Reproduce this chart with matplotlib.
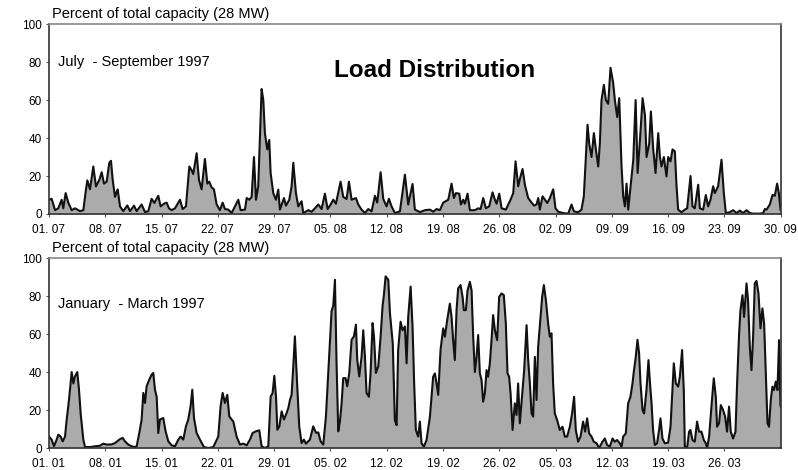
import numpy as np
import matplotlib
matplotlib.use("Agg")
import matplotlib.pyplot as plt

plt.rcParams['font.family'] = ['Liberation Sans', 'DejaVu Sans']

# July - September 1997: day offset from 01.07, percent of capacity
jul_day = [0.0, 0.33, 0.75, 1.16, 1.57, 1.78, 2.07, 2.40, 2.82, 3.23, 3.85, 4.27, 4.60, 4.77,
           5.10, 5.51, 5.84, 6.26, 6.55, 6.84, 7.17, 7.50, 7.71, 7.92, 8.21, 8.54, 8.83, 9.24,
           9.74, 10.07, 10.57, 10.90, 11.52, 11.94, 12.35, 12.76, 13.10, 13.59, 13.88, 14.30,
           14.63, 14.92, 15.25, 15.67, 16.29, 16.62, 17.03, 17.45, 17.74, 17.94, 18.36, 18.65,
           18.98, 19.39, 19.69, 19.93, 20.22, 20.51, 20.85, 21.26, 21.59, 21.88, 22.30, 22.71,
           23.13, 23.54, 23.83, 24.37, 24.58, 24.91, 25.20, 25.49, 25.74, 26.02, 26.44, 26.65,
           26.85, 27.14, 27.39, 27.56, 27.89, 28.22, 28.51, 28.72, 29.22, 29.47, 29.88, 30.17,
           30.38, 30.71, 31.00, 31.41, 31.62, 32.24, 32.66, 33.07, 33.49, 33.90, 34.31, 34.65,
           34.94, 35.35, 35.68, 36.26, 36.59, 37.01, 37.30, 37.63, 38.17, 38.46, 38.87, 39.29,
           39.70, 40.12, 40.53, 40.82, 41.24, 41.57, 41.98, 42.27, 42.60, 43.02, 43.64, 44.26,
           44.67, 45.21, 45.50, 46.13, 46.75, 47.37, 47.78, 48.20, 48.61, 49.03, 49.65, 50.06,
           50.35, 50.60, 51.02, 51.22, 51.51, 51.72, 52.05, 52.34, 52.96, 53.38, 53.67, 54.00,
           54.33, 54.74, 55.16, 55.45, 55.66, 55.99, 56.28, 56.82, 57.11, 57.40, 57.73, 58.02,
           58.35, 58.64, 58.89, 59.18, 59.59, 60.01, 60.34, 60.63, 60.84, 61.04, 61.38, 61.67,
           61.96, 62.29, 62.70, 62.99, 63.32, 63.95, 64.57, 64.98, 65.27, 65.81, 66.22, 66.51,
           66.76, 66.97, 67.18, 67.47, 67.76, 68.01, 68.30, 68.50, 68.71, 69.00, 69.25, 69.54,
           69.83, 70.16, 70.37, 70.66, 70.91, 71.20, 71.41, 71.62, 71.82, 72.03, 72.32, 72.66,
           72.95, 73.20, 73.49, 73.82, 74.11, 74.31, 74.64, 74.85, 75.14, 75.43, 75.76, 75.97,
           76.17, 76.46, 76.79, 77.00, 77.29, 77.54, 77.83, 78.04, 78.24, 78.66, 79.07, 79.36,
           79.78, 80.02, 80.31, 80.73, 80.94, 81.35, 81.68, 81.97, 82.26, 82.59, 82.80, 83.21,
           83.63, 83.92, 84.17, 84.66, 85.08, 85.50, 85.91, 86.33, 86.74, 87.15, 87.57, 88.40,
           88.81, 89.02, 89.23, 89.64, 89.97, 90.26, 90.55, 90.76, 90.97]
jul_pct = [7.5, 8, 2, 3, 7.5, 3, 11, 6, 2, 3, 1.5, 2, 13, 17.7,
           13, 25, 14.5, 18, 22, 16, 17, 27, 28, 18, 9, 13, 4, 1.5,
           4.5, 1.5, 4.4, 1.5, 5, 1, 1.5, 8, 5.8, 9.6, 4, 5.4,
           6, 3, 2, 3, 7.5, 2.6, 4, 25, 23, 21, 32, 18,
           13, 29, 16, 17, 14, 13, 5, 2, 6, 2.6, 2.3, 0.5,
           4, 7.5, 2, 2.3, 8.4, 7.5, 9, 30, 7.5, 14.6, 65.8, 60,
           42.6, 34, 39, 21.6, 11, 7.5, 12.8, 2.3, 8.4, 4.4, 7.5, 14.6,
           27, 11, 4, 6.7, 0.5, 2, 1.2, 3, 5, 2.6, 10.7, 2.6,
           4.4, 7.5, 5.4, 17, 9, 7.9, 17, 7.5, 8.4, 5, 2.3, 0.5,
           2.6, 1.4, 9.6, 6, 22, 7.9, 4, 8, 4, 0.5, 1.4, 20.7,
           5, 15.8, 2.3, 1, 2, 2.3, 1.2, 2.6, 2, 6, 7.5, 16,
           8.4, 11, 10.7, 5, 7.5, 5.4, 10.7, 2, 2, 3, 2.6, 8.4,
           3, 4, 11.4, 7.5, 5.4, 10.7, 3, 2.3, 5, 7.5, 11, 27.7,
           14.6, 19.8, 23.7, 15.4, 8.4, 6, 4.4, 5, 8.4, 2.3, 9.3, 7.5,
           5.8, 8.4, 13, 3, 1.2, 0.5, 0.2, 5, 1.4, 0.9, 2.3, 9.3,
           30, 47, 37, 30, 42.6, 34, 25, 37, 60, 68, 60, 58,
           77, 69, 60, 51, 61, 25, 9.3, 4, 16, 2.3, 14.6, 28.6,
           60, 21.6, 39, 61, 52, 30, 37, 54, 34, 21.6, 42.6, 30,
           25, 30, 19.8, 30, 27.7, 34, 33, 14.6, 2.3, 0.9, 2.3, 3,
           20, 4, 3, 15.4, 3, 2.3, 10, 4, 7.5, 14.6, 11, 14.6,
           28.6, 11, 0.5, 0.9, 2, 0.5, 1.8, 0.5, 2, 0.5, 0.2, 0.2,
           0.5, 2.6, 2.3, 5, 10, 9.6, 16, 11, 2.3]

# January - March 1997: day offset from 01.01, percent of capacity
jan_day = [0.0, 0.33, 0.62, 0.87, 1.16, 1.45, 1.70, 1.99, 2.20, 2.40, 2.61, 2.82, 3.03, 3.23,
           3.52, 3.73, 3.94, 4.27, 4.48, 5.10, 5.72, 6.34, 6.75, 7.17, 7.79, 8.21, 8.83, 9.16,
           9.45, 9.86, 10.28, 10.69, 10.90, 11.23, 11.52, 11.73, 11.94, 12.14, 12.47, 12.76,
           12.97, 13.18, 13.39, 13.59, 13.80, 14.21, 14.50, 14.84, 15.25, 15.67, 16.08, 16.37,
           16.70, 17.03, 17.32, 17.61, 17.82, 18.03, 18.36, 18.77, 19.27, 19.81, 20.43, 21.05,
           21.34, 21.59, 21.88, 22.17, 22.42, 22.71, 22.92, 23.33, 23.75, 24.16, 24.58, 24.99,
           25.32, 25.74, 26.15, 26.44, 26.85, 27.27, 27.56, 27.81, 28.02, 28.23, 28.40, 28.65,
           28.93, 29.22, 29.55, 29.76, 29.97, 30.17, 30.38, 30.58, 30.79, 31.12, 31.41, 31.70,
           31.95, 32.45, 32.86, 33.20, 33.49, 33.78, 34.11, 34.44, 34.73, 35.14, 35.35, 35.56,
           35.76, 35.97, 36.18, 36.39, 36.59, 36.88, 37.09, 37.34, 37.63, 37.92, 38.17, 38.33,
           38.58, 38.87, 39.08, 39.29, 39.49, 39.78, 39.99, 40.24, 40.41, 40.65, 40.95, 41.24,
           41.48, 41.65, 41.86, 42.19, 42.40, 42.75, 43.01, 43.23, 43.42, 43.72, 43.97, 44.26,
           44.47, 44.67, 44.97, 45.21, 45.41, 45.62, 45.91, 46.12, 46.33, 46.62, 46.95, 47.37,
           47.77, 47.99, 48.20, 48.40, 48.69, 49.02, 49.23, 49.52, 49.85, 50.06, 50.26, 50.47,
           50.68, 50.88, 51.18, 51.43, 51.59, 51.84, 52.05, 52.34, 52.55, 52.75, 52.96, 53.17,
           53.37, 53.58, 53.79, 53.99, 54.20, 54.41, 54.61, 54.82, 55.03, 55.23, 55.45, 55.73,
           55.98, 56.28, 56.56, 56.81, 57.02, 57.22, 57.40, 57.65, 57.93, 58.14, 58.34, 58.55,
           58.89, 59.09, 59.39, 59.59, 59.80, 60.01, 60.21, 60.42, 60.63, 60.83, 61.13, 61.33,
           61.54, 61.79, 62.07, 62.28, 62.49, 62.69, 62.90, 63.19, 63.52, 63.86, 64.15, 64.43,
           64.77, 65.05, 65.30, 65.51, 65.80, 66.10, 66.42, 66.67, 66.92, 67.17, 67.47, 67.75,
           68.09, 68.41, 68.83, 69.12, 69.41, 69.74, 70.08, 70.36, 70.65, 70.98, 71.20, 71.40,
           71.73, 72.02, 72.31, 72.56, 72.72, 72.97, 73.18, 73.38, 73.56, 73.81, 74.01, 74.30,
           74.55, 74.71, 74.93, 75.12, 75.34, 75.62, 75.87, 76.04, 76.29, 76.58, 76.99, 77.29,
           77.49, 77.70, 77.95, 78.24, 78.45, 78.73, 78.94, 79.07, 79.35, 79.60, 79.77, 80.02,
           80.31, 80.59, 80.84, 81.14, 81.43, 81.68, 81.84, 82.09, 82.38, 82.67, 82.92, 83.08,
           83.33, 83.54, 83.83, 84.08, 84.32, 84.57, 84.78, 85.07, 85.37, 85.57, 85.82, 85.99,
           86.24, 86.44, 86.74, 86.93, 87.15, 87.36, 87.56, 87.77, 87.98, 88.23, 88.48, 88.72,
           88.93, 89.14, 89.35, 89.54, 89.76, 89.96, 90.16, 90.38, 90.59, 90.79, 90.96, 91.0]
jan_pct = [6, 4.4, 1, 3.5, 7, 6, 3.5, 6, 15, 22, 30.7, 40, 34, 37.7,
           40, 30.7, 18, 4.4, 0.5, 0.5, 0.9, 1.2, 2.3, 1.8, 1.9, 2.6, 4.7, 5.3,
           3.5, 1.8, 0.9, 0.5, 0.9, 7.9, 15, 29, 23.7, 32.5, 36, 38.6,
           39.5, 30.7, 27, 7.9, 15, 15.8, 8.8, 3.5, 1.4, 0.9, 4.4, 6,
           4.4, 11.4, 15, 22, 30.7, 15.8, 7.9, 4.4, 0.5, 0, 0.5, 6,
           22, 29, 23.7, 28, 16.7, 15, 14, 6, 1.8, 2.3, 1.4, 4.4,
           7.9, 8.8, 9.3, 0.9, 0, 0.9, 27, 29, 38, 27, 9.6, 11.4,
           19.3, 15, 18.4, 21, 25.4, 28, 43, 58.8, 39.5, 11.4, 2.6, 4.4,
           2.3, 4.4, 11.4, 8, 8.2, 3.5, 1.8, 16.7, 39.5, 72, 75, 88.6,
           44.7, 8.8, 14, 23.7, 36.8, 36.8, 32.5, 39.5, 57, 58.8, 65, 46.5,
           37.7, 48, 62, 48, 29, 27, 39.5, 65.8, 58.8, 39.5, 43, 58.8,
           74.6, 80.7, 90.4, 88.6, 71, 55, 14.7, 12, 51.6, 66.5, 62, 64,
           44.6, 69, 85, 64, 34, 9.5, 6, 13.9, 2.5, 0.7, 4.2, 16.5,
           37.5, 39.3, 34, 28, 51.6, 63, 58.6, 67.4, 76, 69, 56.8, 46.3,
           72.6, 84, 85.8, 79.6, 72.6, 72.6, 83, 87.5, 83, 58.6, 40, 48,
           59.5, 39.3, 35.8, 24.4, 28.8, 41, 37.5, 44.6, 56.8, 70, 62, 56.8,
           79.6, 81.4, 80.5, 65.6, 39.3, 37.5, 28.8, 9.5, 23.5, 17.4, 34, 13,
           30.5, 41, 64.7, 46.3, 34, 18.2, 16.5, 48, 25.3, 53.3, 69, 79.6,
           85.8, 78, 65.6, 58.6, 60.4, 34, 18.2, 14.7, 9.5, 11.2, 6, 6,
           11.2, 18.2, 27, 9.5, 3.3, 6, 13.9, 8.6, 15.6, 7.7, 6, 3.3,
           2.5, 0, 3.3, 5, 1.6, 0.7, 5, 3.3, 4.2, 2.5, 0.7, 6,
           7.7, 23.5, 27, 34, 40, 48, 57, 50, 34, 20, 18.2, 30.5,
           46.3, 35.8, 23.5, 9.5, 1.6, 2.5, 9.5, 15.6, 5, 2.5, 2.8, 11.2,
           27, 44.6, 34, 32.3, 37.5, 51.6, 30.5, 0.7, 0, 8.6, 9.5, 4.2,
           3.3, 13.9, 8.6, 8.6, 4.2, 2.5, 0, 6, 21.8, 36.7, 27, 11.2,
           13, 22.6, 20, 16.5, 8.6, 21.8, 8.6, 5, 8.6, 34, 60.4, 72.6,
           80.5, 69, 86.7, 78, 53.3, 41, 58.6, 86.7, 88, 81.4, 63, 73.5,
           65.6, 39.3, 13, 11.2, 25.3, 32.3, 30.5, 35, 30.5, 56.8, 22.6, 21.8]

jul_ticks = ['01. 07', '08. 07', '15. 07', '22. 07', '29. 07', '05. 08', '12. 08',
             '19. 08', '26. 08', '02. 09', '09. 09', '16. 09', '23. 09', '30. 09']
jan_ticks = ['01. 01', '08. 01', '15. 01', '22. 01', '29. 01', '05. 02', '12. 02',
             '19. 02', '26. 02', '05. 03', '12. 03', '19. 03', '26. 03']

fig = plt.figure(figsize=(7.98, 4.70), dpi=100)
ax1 = fig.add_axes([0.0614, 0.5447, 0.917, 0.404])
ax2 = fig.add_axes([0.0614, 0.0468, 0.917, 0.404])

panels = [(ax1, jul_day, jul_pct, jul_ticks, 'July  - September 1997', 80),
          (ax2, jan_day, jan_pct, jan_ticks, 'January  - March 1997', 76)]

for ax, days, pct, ticks, label, ly in panels:
    ax.fill_between(days, pct, 0, color='#ababab', linewidth=0)
    ax.plot(days, pct, color='#111111', lw=1.5)
    ax.set_xlim(0, 91)
    ax.set_ylim(0, 100)
    ax.set_xticks(np.arange(len(ticks)) * 7)
    ax.set_xticklabels(ticks)
    ax.set_yticks([0, 20, 40, 60, 80, 100])
    ax.tick_params(labelsize=8.5, length=2, color='#555555', pad=3)
    ax.tick_params(axis='x', pad=5)
    for s in ax.spines.values():
        s.set_color('#333333')
        s.set_linewidth(1.2)
    ax.spines['top'].set_color('#888888')
    ax.text(0.004, 1.055, 'Percent of total capacity (28 MW)', transform=ax.transAxes,
            fontsize=10.5, va='center', ha='left')
    ax.text(1.1, ly, label, fontsize=10.5, va='center', ha='left')

ax1.text(47.9, 75.8, 'Load Distribution', fontsize=17.5, fontweight='bold',
         ha='center', va='center')

fig.savefig('out.png', dpi=100)
